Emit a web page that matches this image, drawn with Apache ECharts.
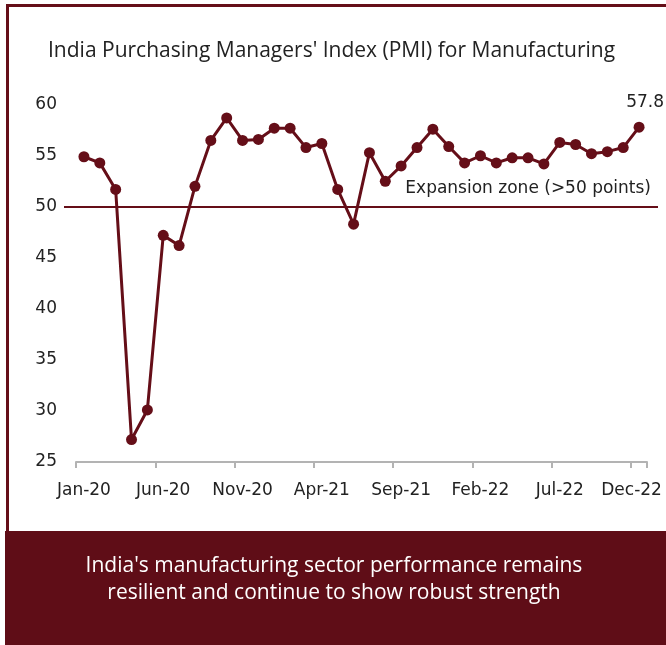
<!DOCTYPE html>
<html>
<head>
<meta charset="utf-8">
<title>India Manufacturing PMI</title>
<script src="https://cdn.jsdelivr.net/npm/echarts@6/dist/echarts.min.js"></script>
<style>
  html, body { margin: 0; padding: 0; background: #ffffff; }
  #chart { width: 666px; height: 645px; }
</style>
</head>
<body>
<div id="chart"></div>
<script>
// Monthly manufacturing PMI readings, Jan 2020 to Dec 2022
const months = [
  'Jan-20', 'Feb-20', 'Mar-20', 'Apr-20', 'May-20', 'Jun-20',
  'Jul-20', 'Aug-20', 'Sep-20', 'Oct-20', 'Nov-20', 'Dec-20',
  'Jan-21', 'Feb-21', 'Mar-21', 'Apr-21', 'May-21', 'Jun-21',
  'Jul-21', 'Aug-21', 'Sep-21', 'Oct-21', 'Nov-21', 'Dec-21',
  'Jan-22', 'Feb-22', 'Mar-22', 'Apr-22', 'May-22', 'Jun-22',
  'Jul-22', 'Aug-22', 'Sep-22', 'Oct-22', 'Nov-22', 'Dec-22'
];
const pmi = [
  54.9, 54.3, 51.7, 27.2, 30.1, 47.2,
  46.2, 52.0, 56.5, 58.7, 56.5, 56.6,
  57.7, 57.7, 55.8, 56.2, 51.7, 48.3,
  55.3, 52.5, 54.0, 55.8, 57.6, 55.9,
  54.3, 55.0, 54.3, 54.8, 54.8, 54.2,
  56.3, 56.1, 55.2, 55.4, 55.8, 57.8
];
const yTicks = { min: 25, max: 60, step: 5 };
const expansionLevel = 50;

const chartTitle = "India Purchasing Managers' Index (PMI) for Manufacturing";
const footnote = "India's manufacturing sector performance remains\nresilient and continue to show robust strength";
const zoneLabel = 'Expansion zone (>50 points)';

const maroon = '#650e18';
const boxColor = '#5f0d17';
const textColor = '#222222';
const axisFont = 'DejaVu Sans';
const headFont = 'Open Sans';

const chart = echarts.init(document.getElementById('chart'), null, { renderer: 'canvas' });

const seriesData = pmi.map(function (v, i) {
  if (i === pmi.length - 1) {
    return {
      value: v,
      label: {
        show: true,
        position: 'top',
        distance: 11,
        offset: [6, 0],
        color: textColor,
        fontFamily: axisFont,
        fontSize: 17,
        formatter: function (p) { return p.value.toFixed(1); }
      }
    };
  }
  return v;
});

chart.setOption({
  animation: false,
  backgroundColor: '#ffffff',
  title: {
    text: chartTitle,
    left: 43,
    top: 36,
    textStyle: {
      fontFamily: headFont,
      fontWeight: 'normal',
      fontSize: 21,
      color: textColor
    }
  },
  graphic: [
    // frame: top and left rules
    { type: 'rect', shape: { x: 6, y: 4, width: 660, height: 3 }, style: { fill: maroon }, silent: true },
    { type: 'rect', shape: { x: 6, y: 4, width: 3, height: 527 }, style: { fill: maroon }, silent: true },
    // caption panel
    { type: 'rect', shape: { x: 5, y: 531, width: 661, height: 114 }, style: { fill: boxColor }, silent: true },
    {
      type: 'text',
      x: 334,
      y: 553,
      style: {
        text: footnote,
        fill: '#ffffff',
        fontFamily: headFont,
        fontSize: 21,
        lineHeight: 27,
        align: 'center',
        verticalAlign: 'top'
      },
      silent: true
    }
  ],
  grid: {
    left: 76,
    right: 19,
    top: 104.7,
    bottom: 183,
    containLabel: false,
    outerBoundsMode: 'none'
  },
  xAxis: {
    type: 'category',
    data: months,
    boundaryGap: true,
    axisLine: { show: true, lineStyle: { color: '#b3b3b3', width: 2 } },
    axisTick: { show: true, interval: 4, length: 6, lineStyle: { color: '#b3b3b3', width: 2 } },
    axisLabel: {
      interval: 4,
      margin: 20,
      color: textColor,
      fontFamily: axisFont,
      fontSize: 17,
      hideOverlap: false,
      // the final month label is pulled left so it stays inside the frame
      formatter: function (val, idx) {
        return idx === months.length - 1 ? '{last|' + val + '}' : val;
      },
      rich: {
        last: {
          padding: [0, 15, 0, 0],
          color: textColor,
          fontFamily: axisFont,
          fontSize: 17
        }
      }
    },
    splitLine: { show: false }
  },
  yAxis: {
    type: 'value',
    min: yTicks.min,
    max: yTicks.max,
    interval: yTicks.step,
    axisLine: { show: false },
    axisTick: { show: false },
    splitLine: { show: false },
    axisLabel: {
      margin: 19,
      padding: [4, 0, 0, 0],
      color: textColor,
      fontFamily: axisFont,
      fontSize: 17
    }
  },
  series: [{
    type: 'line',
    data: seriesData,
    symbol: 'circle',
    symbolSize: 11,
    showAllSymbol: true,
    lineStyle: { color: maroon, width: 3 },
    itemStyle: { color: maroon },
    z: 3,
    markLine: {
      silent: true,
      symbol: 'none',
      lineStyle: { color: maroon, width: 2, type: 'solid' },
      label: {
        show: true,
        position: 'insideEndTop',
        distance: [7, 10],
        formatter: zoneLabel,
        color: textColor,
        fontFamily: axisFont,
        fontSize: 17
      },
      data: [[
        { x: 64, yAxis: expansionLevel },
        { x: 658, yAxis: expansionLevel }
      ]]
    }
  }]
});
</script>
</body>
</html>
